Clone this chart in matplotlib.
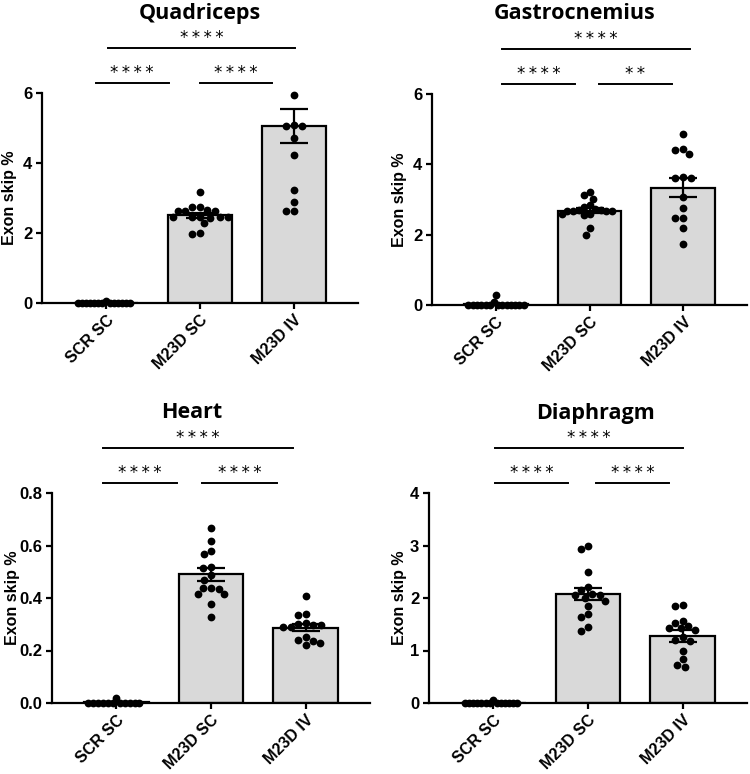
# Exon skipping in four muscles - bar + scatter (mean +/- SEM)

import numpy as np
import matplotlib
matplotlib.use("Agg")
import matplotlib.pyplot as plt
import matplotlib.transforms as mtransforms

groups = ["SCR SC", "M23D SC", "M23D IV"]
tissues = ["Quadriceps", "Gastrocnemius", "Heart", "Diaphragm"]

# individual animals
quad_scr = [0, 0, 0, 0, 0, 0, 0, 0, 0, 0, 0, 0, 0, 0.05]
quad_sc = [3.16, 2.75, 2.75, 2.63, 2.62, 2.64, 2.65, 2.47, 2.45, 2.44, 2.46, 2.45, 2.47, 2.28, 1.97, 1.99]
quad_iv = [5.93, 5.07, 5.10, 5.05, 4.71, 4.24, 3.24, 2.88, 2.62, 2.62]

gast_scr = [0, 0, 0, 0, 0, 0, 0, 0, 0, 0, 0, 0, 0, 0.08, 0.28]
gast_sc = [3.21, 3.13, 3.02, 2.83, 2.80, 2.73, 2.70, 2.68, 2.69, 2.68, 2.66, 2.66, 2.60, 2.58, 2.56, 2.19, 2.00]
gast_iv = [4.87, 4.43, 4.42, 4.29, 3.63, 3.62, 3.60, 3.06, 2.77, 2.48, 2.46, 2.18, 1.73]

heart_scr = [0, 0, 0, 0, 0, 0, 0, 0, 0, 0, 0, 0.02]
heart_sc = [0.668, 0.617, 0.579, 0.569, 0.518, 0.515, 0.486, 0.47, 0.44, 0.438, 0.436, 0.414, 0.416, 0.376, 0.328]
heart_iv = [0.406, 0.336, 0.338, 0.306, 0.300, 0.298, 0.296, 0.290, 0.288, 0.25, 0.24, 0.236, 0.23, 0.22]

dia_scr = [0, 0, 0, 0, 0, 0, 0, 0, 0, 0, 0, 0, 0, 0.05]
dia_sc = [2.99, 2.94, 2.50, 2.21, 2.15, 2.08, 2.06, 2.05, 2.00, 1.95, 1.85, 1.70, 1.64, 1.45, 1.37]
dia_iv = [1.87, 1.85, 1.57, 1.53, 1.47, 1.43, 1.42, 1.40, 1.25, 1.20, 1.18, 1.00, 0.83, 0.72, 0.69]

points = [
    [quad_scr, quad_sc, quad_iv],
    [gast_scr, gast_sc, gast_iv],
    [heart_scr, heart_sc, heart_iv],
    [dia_scr, dia_sc, dia_iv],
]

# bar heights (mean) and SEM as drawn in the figure
means = [
    [0.005, 2.51, 5.05],
    [0.02, 2.68, 3.34],
    [0.002, 0.49, 0.287],
    [0.005, 2.075, 1.28],
]
sems = [
    [0.004, 0.07, 0.48],
    [0.02, 0.07, 0.28],
    [0.001, 0.024, 0.013],
    [0.004, 0.115, 0.11],
]

y_max = [6, 6, 0.8, 4]
y_ticks = [[0, 2, 4, 6], [0, 2, 4, 6], [0, 0.2, 0.4, 0.6, 0.8], [0, 1, 2, 3, 4]]

# significance labels: (SCR vs SC, SC vs IV, SCR vs IV)
sig = [
    ["****", "****", "****"],
    ["****", "**", "****"],
    ["****", "****", "****"],
    ["****", "****", "****"],
]
# bracket x spans (data units) per panel: lower-left, lower-right, top
brackets = [
    [(-0.11, 0.67), (1.0, 1.77), (0.02, 2.01)],
    [(0.07, 0.85), (1.1, 1.88), (0.07, 2.07)],
    [(-0.14, 0.64), (0.91, 1.70), (-0.14, 1.87)],
    [(0.02, 0.79), (1.08, 1.86), (0.02, 2.0)],
]

# axes rectangles in pixels (left, right, top, bottom) on a 750 x 774 canvas
W, H = 750, 774
boxes = [(42, 358, 93, 303), (432, 747, 94, 305), (52, 370, 493, 703), (429, 747, 493, 703)]
ylabel_x = [10, 400, 12, 400]     # centre of the y label, px
title_dx = [0, -15, -19, 7]       # title shift from middle group, px

BOLD = "Liberation Sans"
DOT_D = 7.0  # px


def swarm_offsets(vals, px_per_x, px_per_y, d, max_half):
    # simple beeswarm in pixel space (highest point first), back to data units
    vals = np.asarray(vals, dtype=float)
    order = np.argsort(-vals, kind="stable")
    placed = []
    xs = np.zeros(len(vals))
    for i in order:
        y = vals[i] * px_per_y
        cands = [0.0]
        for (px, py) in placed:
            dy = y - py
            if abs(dy) < d:
                dx = np.sqrt(d * d - dy * dy)
                cands += [px + dx, px - dx]
        cands.sort(key=lambda c: (abs(c), c))
        for c in cands:
            if all((c - px) ** 2 + (y - py) ** 2 >= d * d - 1e-6 for (px, py) in placed):
                xs[i] = c
                placed.append((c, y))
                break
    m = np.abs(xs).max() if len(xs) else 0
    if m > max_half:
        xs = xs * max_half / m
    return xs / px_per_x


fig = plt.figure(figsize=(7.5, 7.74), dpi=100)

for k in range(4):
    l, r, t, b = boxes[k]
    ax = fig.add_axes([l / W, (H - b) / H, (r - l) / W, (b - t) / H])
    xlim = (-0.68, 2.68)
    ax.set_xlim(*xlim)
    ax.set_ylim(0, y_max[k])
    px_per_x = (r - l) / (xlim[1] - xlim[0])
    px_per_y = (b - t) / y_max[k]

    x = np.arange(3)
    ax.bar(x, means[k], width=0.68, color="#d9d9d9", edgecolor="black", linewidth=1.6, zorder=2)
    ax.errorbar(x, means[k], yerr=sems[k], fmt="none", ecolor="black", elinewidth=1.6,
                capsize=10, capthick=1.6, zorder=4)

    for g in range(3):
        vals = points[k][g]
        off = swarm_offsets(vals, px_per_x, px_per_y, DOT_D + 0.8, 28)
        ax.plot(g + off, vals, "o", color="black", markersize=5.6, markeredgewidth=0,
                clip_on=False, zorder=5)

    for s in ["top", "right"]:
        ax.spines[s].set_visible(False)
    for s in ["left", "bottom"]:
        ax.spines[s].set_linewidth(1.6)
    ax.set_xticks(x)
    ax.set_xticklabels(groups, rotation=45, ha="right", rotation_mode="anchor",
                       fontfamily=BOLD, fontweight="bold", fontsize=11.5)
    ax.set_yticks(y_ticks[k])
    for lab in ax.get_yticklabels():
        lab.set_fontfamily(BOLD)
        lab.set_fontweight("bold")
        lab.set_fontsize(12)
    ax.tick_params(axis="both", length=4, width=1.6, pad=3)
    ax.set_ylabel("Exon skip %", fontfamily=BOLD, fontweight="bold", fontsize=11.5)
    ax.yaxis.label.set_va("center")
    ax.yaxis.set_label_coords((ylabel_x[k] - l) / (r - l), 0.5)

    # significance brackets above the axes
    trans = mtransforms.blended_transform_factory(ax.transData, ax.transAxes)
    h_ax = b - t
    levels = [1 + 10 / h_ax, 1 + 10 / h_ax, 1 + 45 / h_ax]
    for (x0, x1), lev, txt in zip(brackets[k], levels, sig[k]):
        ax.plot([x0, x1], [lev, lev], color="black", lw=1.4, transform=trans, clip_on=False)
        ax.text((x0 + x1) / 2, lev + 1 / h_ax, "\u2009".join(txt), transform=trans,
                ha="center", va="bottom", fontsize=12, fontfamily="DejaVu Sans")

    ax.text(1 + title_dx[k] / px_per_x, 1 + 80 / h_ax, tissues[k], transform=trans,
            ha="center", va="center", fontsize=15.5, fontweight="bold", fontfamily="Open Sans")

fig.savefig("out.png", dpi=100)
